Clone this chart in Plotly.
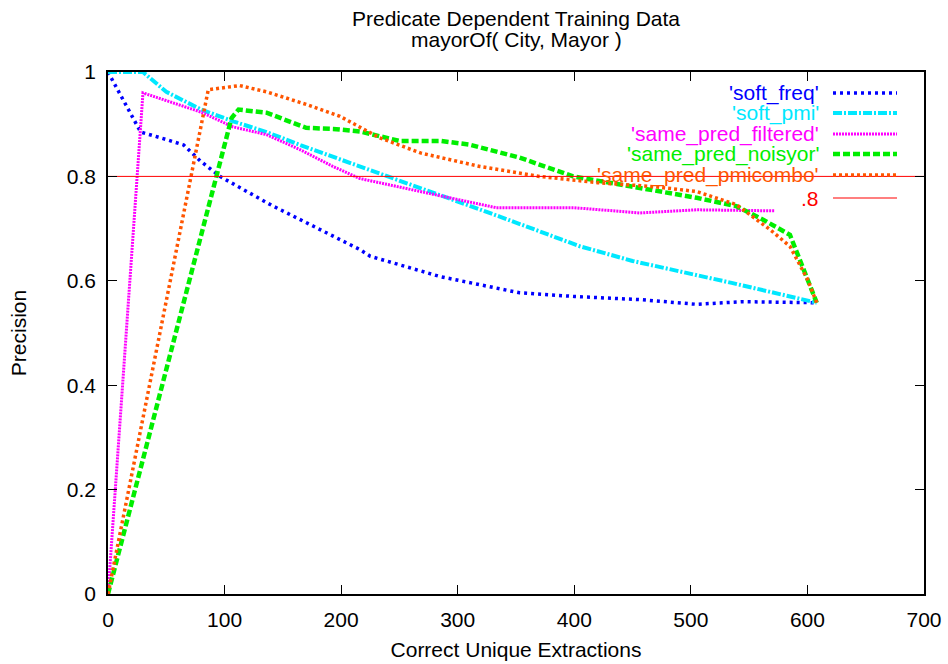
import plotly.graph_objects as go

# ---- data ----
soft_freq_x = [0, 28, 51, 65, 79, 96, 140, 180, 216, 225, 285, 353, 400, 456, 505, 545, 608]
soft_freq_y = [1.0, 0.885, 0.87, 0.86, 0.83, 0.80, 0.745, 0.70, 0.66, 0.647, 0.608, 0.577, 0.570, 0.564, 0.555, 0.560, 0.558]

soft_pmi_x = [0, 30, 50, 80, 108, 136, 165, 200, 268, 336, 405, 450, 535, 608]
soft_pmi_y = [1.0, 1.0, 0.962, 0.928, 0.905, 0.885, 0.86, 0.832, 0.778, 0.723, 0.666, 0.638, 0.596, 0.558]

filtered_x = [0, 30, 80, 107, 136, 165, 193, 216, 268, 313, 333, 400, 456, 505, 572]
filtered_y = [0.0, 0.96, 0.923, 0.895, 0.88, 0.851, 0.819, 0.796, 0.771, 0.749, 0.740, 0.740, 0.730, 0.736, 0.734]

noisyor_x = [0, 106, 112, 136, 170, 193, 216, 250, 285, 310, 353, 399, 448, 505, 539, 562, 585, 608]
noisyor_y = [0.0, 0.912, 0.928, 0.922, 0.893, 0.891, 0.886, 0.868, 0.868, 0.861, 0.836, 0.800, 0.781, 0.759, 0.743, 0.717, 0.688, 0.558]

pmicombo_x = [0, 86, 113, 136, 170, 199, 233, 268, 319, 370, 420, 470, 505, 539, 568, 585, 600, 608]
pmicombo_y = [0.0, 0.966, 0.974, 0.962, 0.938, 0.915, 0.874, 0.845, 0.819, 0.800, 0.788, 0.780, 0.771, 0.746, 0.698, 0.666, 0.603, 0.558]

ref_x = [0, 700]
ref_y = [0.8, 0.8]

x_ticks = [0, 100, 200, 300, 400, 500, 600, 700]
y_ticks = [0, 0.2, 0.4, 0.6, 0.8, 1.0]
y_tick_text = ["0", "0.2", "0.4", "0.6", "0.8", "1"]

title_lines = ["Predicate Dependent Training Data", "mayorOf( City, Mayor )"]

series = [
    ("'soft_freq'", soft_freq_x, soft_freq_y, "#0000ff", 3.5, "3px,4px"),
    ("'soft_pmi'", soft_pmi_x, soft_pmi_y, "#00e8ff", 4, "9px,2px,2px,2px"),
    ("'same_pred_filtered'", filtered_x, filtered_y, "#ff00ff", 3, "2px,1px"),
    ("'same_pred_noisyor'", noisyor_x, noisyor_y, "#00ee00", 4.5, "7px,3px"),
    ("'same_pred_pmicombo'", pmicombo_x, pmicombo_y, "#ff5500", 3.5, "3px,3px"),
    (".8", ref_x, ref_y, "#ff0000", 1, "solid"),
]

FONT = "Liberation Sans, Arial, sans-serif"
FS = 21
L, R, T, B = 108, 24, 72, 70
W, H = 948, 664
PW, PH = W - L - R, H - T - B


def ypaper(py):
    return (H - B - py) / PH


def xpaper(px):
    return (px - L) / PW


fig = go.Figure()
annotations = []
shapes = []
legend_rows = [93, 113, 134, 154, 175, 198]
for i, (name, xs, ys, color, width, dash) in enumerate(series):
    fig.add_trace(go.Scatter(x=xs, y=ys, mode="lines", name=name,
                             line=dict(color=color, width=width, dash=dash),
                             showlegend=False))
    yp = ypaper(legend_rows[i])
    annotations.append(dict(xref="paper", yref="paper", x=xpaper(820), y=yp,
                            xanchor="right", yanchor="middle", showarrow=False,
                            borderpad=0,
                            text=name, font=dict(family=FONT, size=FS, color=color)))
    shapes.append(dict(type="line", xref="paper", yref="paper",
                       x0=xpaper(833), x1=xpaper(897), y0=yp, y1=yp,
                       line=dict(color=color, width=max(width, 1.2), dash=dash)))

for line_text, py in zip(title_lines, [18, 40]):
    annotations.append(dict(xref="paper", yref="paper", x=0.5, y=ypaper(py),
                            xanchor="center", yanchor="middle", showarrow=False,
                            text=line_text, font=dict(family=FONT, size=FS, color="black")))

axis_common = dict(showgrid=False, zeroline=False, showline=True, linecolor="black",
                   linewidth=1.5, mirror="ticks", ticks="inside", ticklen=9,
                   tickwidth=1.2, tickcolor="black", automargin=False,
                   tickfont=dict(family=FONT, size=FS, color="black"))

fig.update_layout(
    width=W, height=H,
    margin=dict(l=L, r=R, t=T, b=B),
    paper_bgcolor="white", plot_bgcolor="white",
    xaxis=dict(range=[0, 700], tickvals=x_ticks, ticktext=[str(v) for v in x_ticks],
               ticklabelstandoff=6,
               title=dict(text="Correct Unique Extractions", standoff=12,
                          font=dict(family=FONT, size=FS, color="black")),
               **axis_common),
    yaxis=dict(range=[0, 1], tickvals=y_ticks, ticktext=y_tick_text,
               ticklabelstandoff=6,
               title=dict(text="Precision", standoff=34,
                          font=dict(family=FONT, size=FS, color="black")),
               **axis_common),
    annotations=annotations,
    shapes=shapes,
)

fig.write_html("out.html")
